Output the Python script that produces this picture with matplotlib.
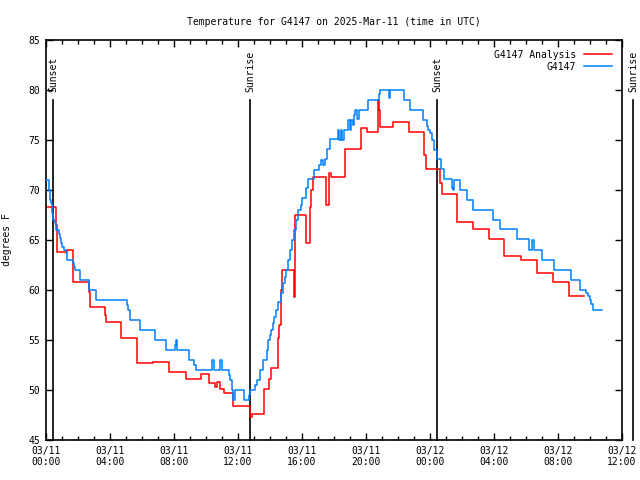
import numpy as np
import pandas as pd
import matplotlib
matplotlib.use("Agg")
import matplotlib.pyplot as plt
import matplotlib.dates as mdates

# hours after 2025-03-11 00:00 UTC, value in degrees F (step data)
obs_hours = [0.0, 0.17, 0.23, 0.29, 0.375, 0.46, 0.56, 0.64, 0.79, 0.875, 0.96, 1.02,
             1.125, 1.25, 1.33, 1.67, 1.75, 1.81, 2.125, 2.69, 3.125, 5.04, 5.1, 5.25,
             5.86, 6.81, 7.5, 8.09, 8.125, 8.19, 8.94, 9.25, 9.375, 10.375, 10.5, 10.9,
             11.0, 11.44, 11.53, 11.625, 11.69, 11.81, 12.375, 12.69, 12.75, 13.06, 13.19,
             13.375, 13.56, 13.81, 13.875, 14.0, 14.06, 14.19, 14.25, 14.375, 14.5, 14.69,
             14.81, 14.94, 15.0, 15.125, 15.28, 15.4, 15.5, 15.625, 15.75, 15.94, 16.03,
             16.25, 16.4, 16.75, 17.06, 17.19, 17.31, 17.44, 17.56, 17.75, 18.25, 18.34,
             18.44, 18.53, 18.625, 18.875, 18.97, 19.06, 19.16, 19.25, 19.31, 19.44, 19.56,
             20.125, 20.81, 20.875, 21.44, 21.53, 22.375, 22.75, 23.56, 23.81, 23.9, 24.03,
             24.125, 24.25, 24.44, 24.69, 24.875, 25.375, 25.44, 25.53, 25.875, 26.31,
             26.69, 27.94, 28.375, 29.44, 30.19, 30.4, 30.53, 30.97, 31.75, 32.84, 33.4,
             33.78, 33.875, 33.97, 34.06, 34.19, 34.75]
obs_temp = [71.0, 70.0, 69.0, 68.7, 67.7, 67.0, 66.7, 66.0, 65.6, 65.2, 64.7, 64.3,
            64.0, 63.7, 63.0, 62.7, 62.3, 62.0, 61.0, 60.0, 59.0, 58.5, 58.0, 57.0,
            56.0, 55.0, 54.0, 54.5, 55.0, 54.0, 53.0, 52.5, 52.0, 53.0, 52.0, 53.0,
            52.0, 51.5, 51.0, 50.0, 49.0, 50.0, 49.0, 49.5, 50.0, 50.5, 51.0,
            52.0, 53.0, 54.0, 55.0, 55.5, 56.0, 56.7, 57.3, 58.0, 58.8, 59.7,
            60.7, 61.3, 62.0, 63.0, 64.0, 65.0, 66.0, 67.0, 68.0, 68.5, 69.2,
            70.2, 71.1, 72.0, 72.5, 73.0, 72.5, 73.1, 74.1, 75.1, 76.0, 75.0,
            76.0, 75.0, 76.0, 77.0, 76.0, 77.0, 76.5, 77.5, 78.0, 77.1, 78.0,
            79.0, 79.6, 80.0, 79.2, 80.0, 79.0, 78.0, 77.0, 76.4, 76.0, 75.7,
            75.0, 74.0, 73.1, 72.1, 71.1, 70.2, 70.0, 71.0, 70.0, 69.0,
            68.0, 67.0, 66.1, 65.1, 64.0, 65.0, 64.0, 63.0, 62.0, 61.0, 60.0,
            59.7, 59.4, 59.0, 58.6, 58.0, 58.0]

ana_hours = [0.0, 0.6, 0.67, 1.33, 1.67, 2.66, 2.73, 3.69, 3.75, 4.66, 5.66, 6.69,
             7.69, 8.72, 9.67, 10.19, 10.56, 10.66, 10.9, 11.125, 11.66, 12.72, 12.875,
             13.625, 13.94, 14.09, 14.47, 14.53, 14.59, 14.66, 14.72, 15.5, 15.59, 16.25,
             16.47, 16.56, 16.66, 17.5, 17.69, 17.81, 18.69, 19.69, 20.06, 20.75, 20.81,
             20.9, 21.66, 22.69, 23.625, 23.75, 24.6, 24.72, 25.69, 26.69, 27.69, 28.625,
             29.69, 30.69, 31.66, 32.69, 33.6]
ana_temp = [68.3, 66.5, 63.8, 64.0, 60.8, 59.8, 58.3, 57.5, 56.8, 55.2, 52.7, 52.8,
            51.8, 51.1, 51.6, 50.7, 50.3, 50.8, 50.1, 49.7, 48.4, 47.3, 47.6,
            50.1, 51.1, 52.2, 53.7, 55.2, 56.5, 60.0, 62.0, 59.3, 67.5, 64.7,
            68.3, 70.0, 71.3, 68.5, 71.7, 71.3, 74.1, 76.2, 75.8, 79.0, 78.0,
            76.3, 76.8, 75.8, 73.5, 72.1, 70.7, 69.6, 66.8, 66.1, 65.1, 63.4,
            63.0, 61.7, 60.8, 59.4, 59.4]

sun_labels = ["Sunset", "Sunrise", "Sunset", "Sunrise"]
sun_hours = [0.45, 12.75, 24.44, 36.69]

base = pd.Timestamp("2025-03-11 00:00")
obs_t = base + pd.to_timedelta(obs_hours, unit="h")
ana_t = base + pd.to_timedelta(ana_hours, unit="h")
sun_t = base + pd.to_timedelta(sun_hours, unit="h")

plt.rcParams["font.family"] = "DejaVu Sans Mono"
plt.rcParams["font.size"] = 7

fig = plt.figure(figsize=(6.4, 4.8), dpi=100)
ax = fig.add_axes([46 / 640, 40 / 480, 576 / 640, 400 / 480])

# sunrise / sunset markers
for lab, t in zip(sun_labels, sun_t):
    ax.plot([t, t], [45, 79], color="black", lw=1.2, clip_on=False, zorder=1)
    ax.text(t, 79.8, lab, rotation=90, ha="center", va="bottom", fontsize=7, clip_on=False)

ax.step(ana_t, ana_temp, where="post", color="#ff0000", lw=1.1, label="G4147 Analysis", zorder=2)
ax.step(obs_t, obs_temp, where="post", color="#0080ff", lw=1.1, label="G4147", zorder=3)

ax.set_xlim(base, base + pd.Timedelta(hours=36))
ax.set_ylim(45, 85)
ax.set_yticks(np.arange(45, 86, 5))
ax.xaxis.set_major_locator(mdates.HourLocator(byhour=range(0, 24, 4)))
ax.xaxis.set_minor_locator(mdates.HourLocator())
ax.xaxis.set_major_formatter(mdates.DateFormatter("%m/%d\n%H:%M"))
ax.tick_params(which="both", direction="in", top=True, right=True, width=1, labelsize=7)
ax.tick_params(which="major", length=5, pad=4)
ax.tick_params(which="minor", length=3)
for s in ax.spines.values():
    s.set_linewidth(1.2)

ax.set_ylabel("degrees F", fontsize=7, labelpad=12)
ax.set_title("Temperature for G4147 on 2025-Mar-11 (time in UTC)", fontsize=7, pad=11)

leg = ax.legend(loc="upper right", frameon=False, markerfirst=False, fontsize=7,
                handlelength=2.9, handletextpad=0.8, labelspacing=0.2, borderaxespad=0.6)
for t in leg.get_texts():
    t.set_ha("right")

fig.savefig("out.png", dpi=100)
